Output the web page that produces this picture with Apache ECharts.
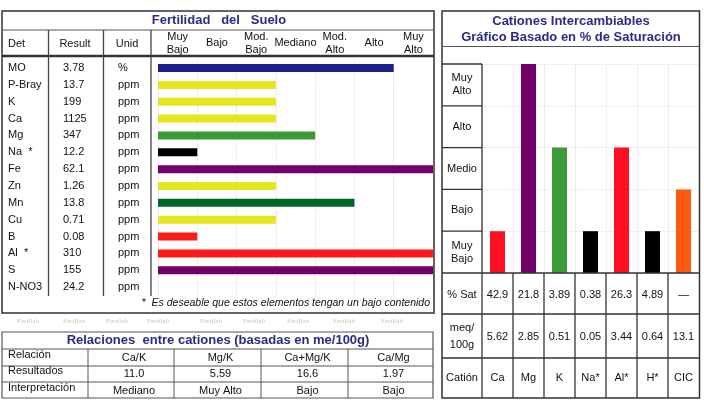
<!DOCTYPE html>
<html><head><meta charset="utf-8">
<script src="https://cdn.jsdelivr.net/npm/echarts@6/dist/echarts.min.js"></script>
<style>html,body{margin:0;padding:0;background:#fff}#c{width:704px;height:406px}</style>
</head><body><div id="c"></div><script>
// ---- data ----
const determinations = ['MO','P-Bray','K','Ca','Mg','Na  *','Fe','Zn','Mn','Cu','B','Al  *','S','N-NO3'];
const results = ['3.78','13.7','199','1125','347','12.2','62.1','1.26','13.8','0.71','0.08','310','155','24.2'];
const units = ['%','ppm','ppm','ppm','ppm','ppm','ppm','ppm','ppm','ppm','ppm','ppm','ppm','ppm'];
const fertilityLevels = ['Muy\nBajo','Bajo','Mod.\nBajo','Mediano','Mod.\nAlto','Alto','Muy\nAlto'];
const fertilityValues = [6,3,3,3,4,1,7,3,5,3,1,7,7,0];
const fertilityColors = ['#1f1f8c','#e6e620','#e6e620','#e6e620','#3b9b32','#000000','#720068','#e6e620','#00662a','#e6e620','#ff1a1a','#ff1a1a','#720068','#999999'];

const cations = ['Ca','Mg','K','Na*','Al*','H*','CIC'];
const satPercent = ['42.9','21.8','3.89','0.38','26.3','4.89','—'];
const meq = ['5.62','2.85','0.51','0.05','3.44','0.64','13.1'];
const cationLevels = [1,5,3,1,3,1,2];
const cationLevelNames = ['Muy\nBajo','Bajo','Medio','Alto','Muy\nAlto'];
const cationColors = ['#ff1020','#720068','#3b9b38','#000000','#ff1020','#000000','#ff5a14'];

const ratioRowLabels = ['Relación','Resultados','Interpretación'];
const ratioNames = ['Ca/K','Mg/K','Ca+Mg/K','Ca/Mg'];
const ratioResults = ['11.0','5.59','16.6','1.97'];
const ratioInterp = ['Mediano','Muy Alto','Bajo','Bajo'];

// ---- layout ----
const FONT = "'Liberation Sans', Arial, sans-serif";
const TITLE = '#2b2b86';
const L = {left:158, width:275, top:59.6, height:235.9};
const R = {left:482, width:217, top:64, height:209};
const rowH = L.height / determinations.length;
const colW = R.width / cations.length;
const bandH = R.height / cationLevelNames.length;

const G = [];
function txt(x,y,s,o){o=o||{};G.push({type:'text',x:x,y:y,z:100,silent:true,style:{text:s,fill:o.fill||'#111',font:(o.style||'')+' '+(o.weight||'normal')+' '+(o.size||11)+'px '+(o.family||FONT),textAlign:o.align||'left',align:o.align||'left',textVerticalAlign:'middle',verticalAlign:'middle',lineHeight:o.lh||13}});}
function ln(x1,y1,x2,y2,c,w){G.push({type:'line',z:99,silent:true,shape:{x1:x1,y1:y1,x2:x2,y2:y2},style:{stroke:c||'#333',lineWidth:w||1.2}});}
function rc(x,y,w,h,c,lw){G.push({type:'rect',z:99,silent:true,shape:{x:x,y:y,width:w,height:h},style:{fill:'none',stroke:c||'#333',lineWidth:lw||1.2}});}

// Left panel
rc(2,11,432,302,'#333',1.5);
ln(2,30,434,30,'#555',1.2);
ln(2,56,434,56,'#333',2.5);
[48.5,103.5,151].forEach(x=>ln(x,30,x,296,'#444',1.3));
txt(219,20.5,'Fertilidad   del   Suelo',{fill:TITLE,weight:'bold',size:13,align:'center'});
txt(8,44,'Det');txt(75,44,'Result',{align:'center'});txt(127,44,'Unid',{align:'center'});
determinations.forEach((d,i)=>{const y=L.top+(i+0.5)*rowH;txt(8,y,d);txt(63,y,results[i]);txt(118,y,units[i]);});
txt(430,303.5,'*  Es deseable que estos elementos tengan un bajo contenido',{style:'italic',align:'right',size:10.5});
// watermark
[28,74,117,158,211,254,298,344,392].forEach(x=>txt(x,321,'Fertilab',{fill:'#c4c4c4',size:7,family:"'Liberation Serif', serif",align:'center'}));

// Relaciones table
rc(2,332,431,66,'#555',1.2);
ln(2,349,433,349,'#555',1);ln(2,366,433,366,'#555',1);ln(2,382,433,382,'#555',1);
[88,174,261,348].forEach(x=>ln(x,349,x,398,'#555',1));
txt(218,340.5,'Relaciones  entre cationes (basadas en me/100g)',{fill:TITLE,weight:'bold',size:13,align:'center'});
const rcx=[131,217.5,304.5,390.5];
ratioRowLabels.forEach((s,i)=>txt(8,[355,371,387.5][i],s));
ratioNames.forEach((s,i)=>{txt(rcx[i]+3,358,s,{align:'center'});txt(rcx[i]+3,374,ratioResults[i],{align:'center'});txt(rcx[i]+3,390.5,ratioInterp[i],{align:'center'});});

// Right panel
rc(442,11,257.5,387,'#333',1.5);
ln(442,46.5,699.5,46.5,'#555',1.2);
txt(571,21,'Cationes Intercambiables',{fill:TITLE,weight:'bold',size:13,align:'center'});
txt(571,37.5,'Gráfico Basado en % de Saturación',{fill:TITLE,weight:'bold',size:13,align:'center'});
ln(482,R.top,482,398,'#333',1.3);
for(let k=0;k<cationLevelNames.length;k++){const y=R.top+k*bandH;ln(442,y,482,y,'#333',1.3);
  txt(462,y+bandH/2,cationLevelNames[cationLevelNames.length-1-k],{align:'center'});}
ln(442,273,699.5,273,'#333',1.3);ln(442,314,699.5,314,'#333',1.3);ln(442,358,699.5,358,'#333',1.3);
for(let i=1;i<cations.length;i++){const x=R.left+i*colW;ln(x,273,x,398,'#333',1.3);}
txt(462,294.5,'% Sat',{align:'center'});txt(462,336.5,'meq/\n100g',{align:'center',lh:17});txt(462,378,'Catión',{align:'center'});
cations.forEach((c,i)=>{const x=R.left+(i+0.5)*colW;txt(x,294.5,satPercent[i],{align:'center'});txt(x,336.5,meq[i],{align:'center'});txt(x,378,c,{align:'center'});});

const chart = echarts.init(document.getElementById('c'),null,{renderer:'canvas'});
chart.setOption({
  animation:false,
  backgroundColor:'#fff',
  grid:[
    {left:L.left,top:L.top,width:L.width,height:L.height,containLabel:false},
    {left:R.left,top:R.top,width:R.width,height:R.height,containLabel:false}
  ],
  xAxis:[
    {type:'value',gridIndex:0,min:0,max:fertilityLevels.length,interval:1,axisLabel:{show:false},axisLine:{show:false},axisTick:{show:false},splitLine:{show:true,lineStyle:{color:'#ececec',width:1}}},
    {type:'category',gridIndex:0,position:'top',data:fertilityLevels,axisLine:{show:false},axisTick:{show:false},splitLine:{show:false},
      axisLabel:{interval:0,margin:16.6,color:'#111',fontFamily:FONT,fontSize:11,lineHeight:13,verticalAlign:'middle'}},
    {type:'category',gridIndex:1,data:cations,axisLabel:{show:false},axisLine:{show:false},axisTick:{show:false},splitLine:{show:true,interval:0,lineStyle:{color:'#eeeeee'}}}
  ],
  yAxis:[
    {type:'category',gridIndex:0,inverse:true,data:determinations,axisLabel:{show:false},axisLine:{show:false},axisTick:{show:false},splitLine:{show:false}},
    {type:'value',gridIndex:1,min:0,max:cationLevelNames.length,interval:1,axisLabel:{show:false},axisLine:{show:false},axisTick:{show:false},splitLine:{show:true,lineStyle:{color:'#eeeeee'}}}
  ],
  series:[
    {type:'bar',xAxisIndex:0,yAxisIndex:0,barWidth:8,
      data:fertilityValues.map((v,i)=>({value:v,itemStyle:{color:fertilityColors[i]}}))},
    {type:'bar',xAxisIndex:2,yAxisIndex:1,barWidth:15,
      data:cationLevels.map((v,i)=>({value:v,itemStyle:{color:cationColors[i]}}))}
  ],
  graphic:G
});
</script></body></html>
